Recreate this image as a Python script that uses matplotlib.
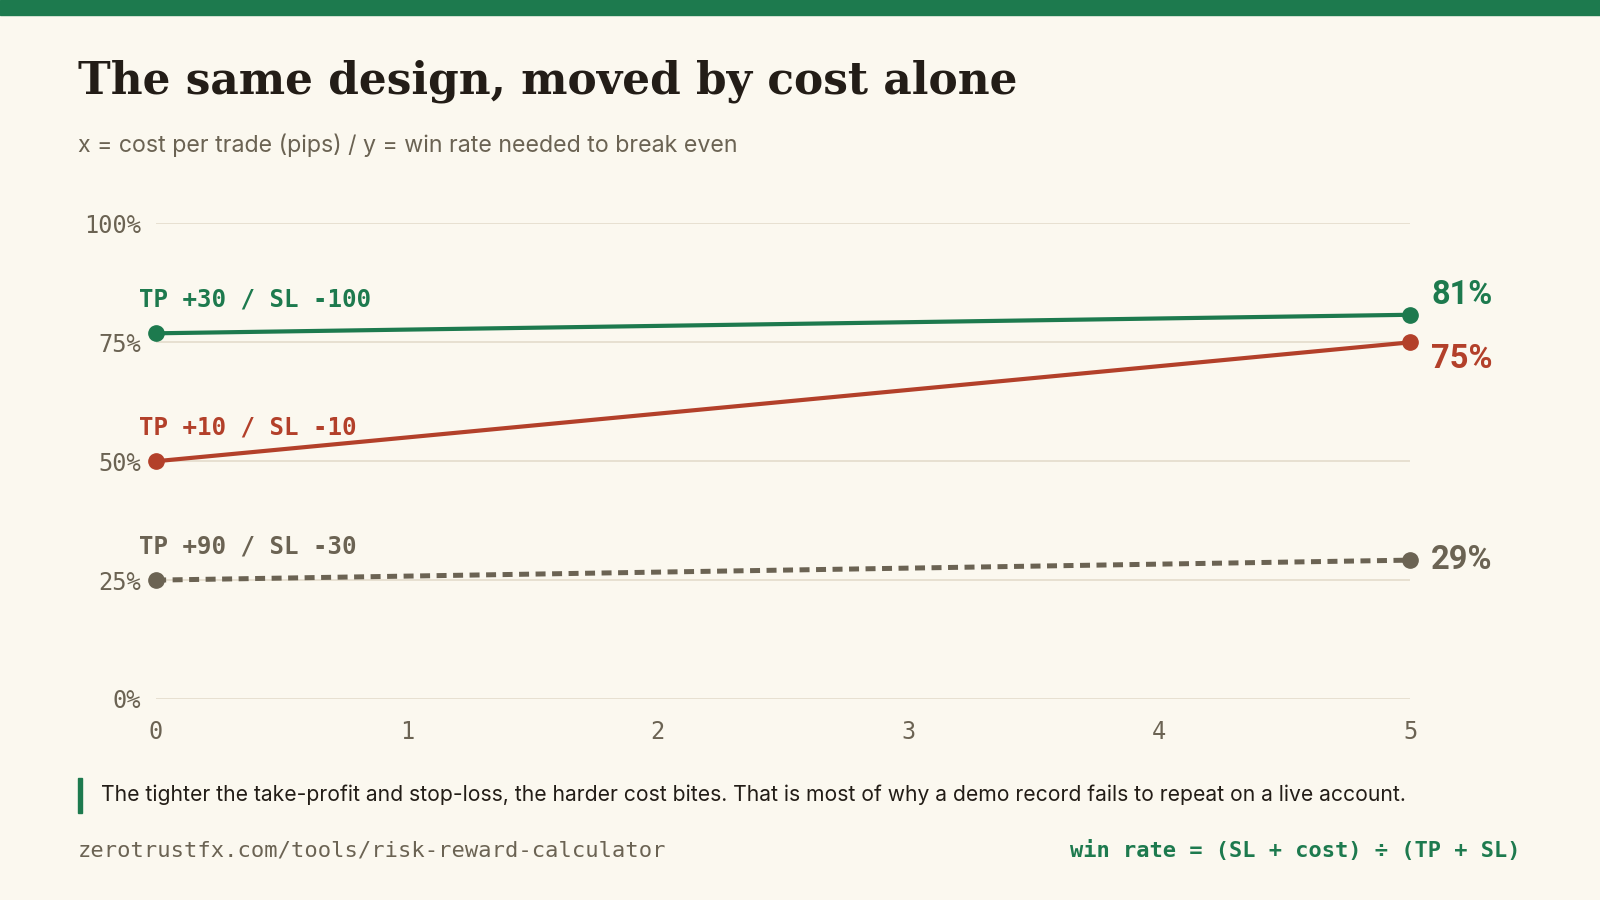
import matplotlib
matplotlib.use("Agg")
import matplotlib.pyplot as plt
from matplotlib.patches import Rectangle

# donnees
couts = [0, 5]
series_noms = ["TP +30 / SL -100", "TP +10 / SL -10", "TP +90 / SL -30"]
series_valeurs = [[76.9, 80.8], [50.0, 75.0], [25.0, 29.2]]
etiquettes_fin = ["81%", "75%", "29%"]
y_ticks = [0, 25, 50, 75, 100]
y_labels = ["0%", "25%", "50%", "75%", "100%"]
x_ticks = [0, 1, 2, 3, 4, 5]

VERT = "#1d7a4e"
ROUGE = "#b3402a"
GRIS = "#6b6353"
FOND = "#fbf8ef"
ENCRE = "#231d17"
MONO = "DejaVu Sans Mono"
SANS = "Inter"

W, H = 1568.0, 882.0  # coordonnees mesurees sur la reference


def fx(px):
    return px / W


def fy(py):
    return 1 - py / H


fig = plt.figure(figsize=(16, 9), dpi=100, facecolor=FOND)
ax = fig.add_axes([fx(153), fy(685), fx(1382) - fx(153), fy(219) - fy(685)])
ax.set_facecolor(FOND)

# bande verte en haut
fig.patches.append(Rectangle((0, fy(15)), 1, 1 - fy(15), transform=fig.transFigure,
                             color=VERT, zorder=0))

for y in y_ticks:
    ax.axhline(y, color="#e3dccb", lw=1.2, zorder=1)

couleurs = [VERT, ROUGE, GRIS]
styles = ["-", "-", (0, (2.0, 1.3))]
decal_fin = [14, -12, 0]
for nom, vals, coul, st, lab, dy in zip(series_noms, series_valeurs, couleurs, styles,
                                        etiquettes_fin, decal_fin):
    lw = 3.0 if st == "-" else 3.6
    ax.plot(couts, vals, color=coul, lw=lw, linestyle=st, dash_capstyle="butt",
            solid_capstyle="round", zorder=3, clip_on=False)
    ax.plot([couts[0], couts[-1]], [vals[0], vals[-1]], "o", color=coul, ms=11,
            zorder=4, clip_on=False)
    ax.annotate(nom, (couts[0], vals[0]), xytext=(-12.5, 24), textcoords="offset points",
                ha="left", va="center", fontsize=17.4, fontweight="bold",
                family=MONO, color=coul)
    ax.annotate(lab, (couts[-1], vals[-1]), xytext=(15, dy), textcoords="offset points",
                ha="left", va="center", fontsize=23.5, fontweight="bold",
                family="Roboto", color=coul)

ax.set_xlim(0, 5)
ax.set_ylim(0, 100)
ax.set_yticks(y_ticks)
ax.set_yticklabels(y_labels)
ax.set_xticks(x_ticks)
for s in ax.spines.values():
    s.set_visible(False)
ax.tick_params(length=0, labelsize=17, colors=GRIS)
ax.tick_params(axis="y", pad=11)
ax.tick_params(axis="x", pad=15)
for t in ax.get_xticklabels() + ax.get_yticklabels():
    t.set_family(MONO)

# titres
fig.text(fx(76), fy(80), "The same design, moved by cost alone", fontsize=31.6,
         fontweight="bold", family="DejaVu Serif", color=ENCRE, va="center", ha="left")
fig.text(fx(76), fy(142), "x = cost per trade (pips) / y = win rate needed to break even",
         fontsize=16.7, family=SANS, color=GRIS, va="center", ha="left")

# note du bas
fig.patches.append(Rectangle((fx(76), fy(797)), fx(4), fy(762) - fy(797),
                             transform=fig.transFigure, color=VERT))
fig.text(fx(99), fy(779), "The tighter the take-profit and stop-loss, the harder cost bites. "
         "That is most of why a demo record fails to repeat on a live account.",
         fontsize=15.2, family=SANS, color=ENCRE, va="center", ha="left")
fig.text(fx(76), fy(833), "zerotrustfx.com/tools/risk-reward-calculator", fontsize=15.9,
         family=MONO, color=GRIS, va="center", ha="left")
fig.text(fx(1490), fy(833), "win rate = (SL + cost) \u00f7 (TP + SL)", fontsize=15.8,
         family=MONO, fontweight="bold", color=VERT, va="center", ha="right")

fig.savefig("out.png", dpi=100, facecolor=FOND)
